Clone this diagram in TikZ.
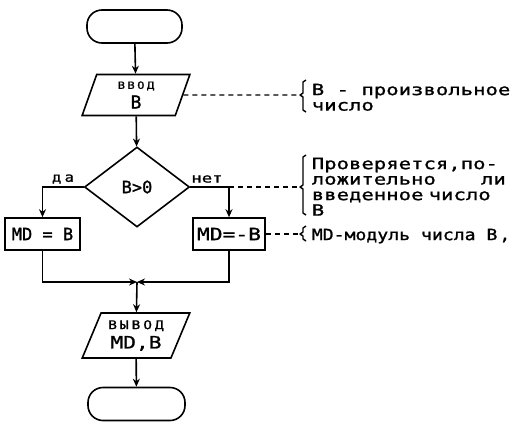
\documentclass[tikz,border=0pt]{standalone}
\usepackage{fontspec}
\setmainfont[FakeBold=1.2]{DejaVu Sans Mono}
\newfontfamily\pf[FakeStretch=1.33,FakeBold=1.2]{DejaVu Sans Mono}
\newfontfamily\pfb[FakeStretch=1.25,FakeBold=1.2]{DejaVu Sans Mono}
\newfontfamily\pfn[FakeStretch=1.17,FakeBold=1.2]{DejaVu Sans Mono}
\newfontfamily\pfs[FakeStretch=1.2,LetterSpace=25,FakeBold=1.2]{DejaVu Sans Mono}
\usetikzlibrary{arrows.meta,shapes.geometric}
\newcommand\brkt[4]{%
  \draw[brk] (#1+4,#2) -- (#1+1,#2+2) -- (#1+1,#3-2) -- (#1-2,#3) -- (#1+1,#3+2) -- (#1+1,#4-2) -- (#1+4,#4);}
\begin{document}
\begin{tikzpicture}[x=1pt,y=-1pt,line width=1.6pt,
  arr/.style={-{Stealth[length=8pt,width=7pt]}},
  term/.style={draw,rounded corners=15pt,minimum width=95pt,minimum height=33pt,inner sep=0pt},
  io/.style={draw,trapezium,trapezium stretches=true,inner sep=0pt,align=center},
  proc/.style={draw,rectangle,minimum height=32pt,inner sep=0pt,font=\fontsize{17}{17}\selectfont},
  dec/.style={draw,diamond,minimum width=105pt,minimum height=80pt,inner sep=0pt,font=\fontsize{17}{17}\selectfont},
  note/.style={anchor=north west,align=left,inner sep=0pt,font=\pf\fontsize{15.5}{15.5}\selectfont},
  lbl/.style={inner sep=0pt,font=\pf\fontsize{13}{13}\selectfont},
  dsh/.style={dash pattern=on 5pt off 4pt,line width=1.3pt},
  brk/.style={line width=1.4pt,line join=round}]
\useasboundingbox (0,0) rectangle (518,421);

\node[term] (start) at (134.5,26.5) {};
\node[io,trapezium left angle=76,trapezium right angle=104,minimum width=108pt,minimum height=41pt] (in) at (136,95)
  {{\pfs\fontsize{10}{10}\selectfont ВВОД}\\[4pt]{\fontsize{18}{18}\selectfont B}};
\node[dec] (d) at (137,187) {B>0};
\node[proc,minimum width=75pt] (b1) at (42.5,234) {MD = B};
\node[proc,minimum width=72pt,font=\pfb\fontsize{17}{17}\selectfont] (b2) at (229,234) {MD=-B};
\coordinate (m) at (137,282);
\node[io,trapezium left angle=64,trapezium right angle=116,minimum width=108pt,minimum height=45pt] (out) at (136,335.5)
  {{\pfs\fontsize{12}{12}\selectfont ВЫВОД}\\[4pt]{\pfb\fontsize{17}{17}\selectfont MD,B}};
\node[term,minimum width=97pt] (end) at (136.5,404) {};

\node[lbl,font=\pfs\fontsize{13}{13}\selectfont] (da) at (63,179) {да};
\node[lbl] (net) at (207,179) {нет};

\draw[arr] (start) -- (in);
\draw[arr] (in) -- (d);
\draw[arr] (d.west) -| (b1.north);
\draw[arr] (d.east) -| (b2.north);
\draw[arr] (b1.south) |- (m);
\draw[arr] (b2.south) |- (m);
\draw[arr] (m) -- (out);
\draw[arr] (out) -- (end);

\coordinate (k1) at (300,95);
\coordinate (k2) at (300,187);
\coordinate (k3) at (300,234);
\draw[dsh] (in.east) -- (k1);
\draw[dsh] (d.east -| b2.north) -- (k2);
\draw[dsh] (b2.east) -- (k3);
\brkt{302}{80}{95}{112}
\brkt{302}{155}{187}{215}
\brkt{302}{226}{234}{241}

\node[note] (n1) at (311,83) {B - произвольное\\число};
\node[note,text width=194pt] (n2) at (311,157) {Проверяется,по-\\ложительно\hfill ли\\введенное число\\B};
\node[note,font=\pfn\fontsize{15.5}{15.5}\selectfont] (n3) at (311,228) {MD-модуль числа B\kern2pt,};
\end{tikzpicture}
\end{document}
